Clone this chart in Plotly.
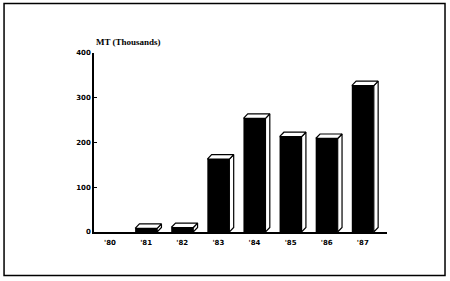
import plotly.graph_objects as go

years = ["'80", "'81", "'82", "'83", "'84", "'85", "'86", "'87"]
values = [0, 8, 10, 163, 254, 213, 209, 327]
y_ticks = [0, 100, 200, 300, 400]

bar_w = 0.61
dx = 0.12
dy = 10

xs = list(range(len(years)))
fig = go.Figure()
fig.add_trace(go.Bar(x=xs, y=values, width=bar_w, marker=dict(color="black", line=dict(color="black", width=0)),
                     showlegend=False, hoverinfo="skip", cliponaxis=False))

for x, v in zip(xs, values):
    if v <= 0:
        continue
    l, r = x - bar_w / 2, x + bar_w / 2
    # side face
    fig.add_trace(go.Scatter(x=[r, r + dx, r + dx, r, r], y=[0, dy, v + dy, v, 0], mode="lines",
                             fill="toself", fillcolor="white", line=dict(color="black", width=1.2),
                             showlegend=False, hoverinfo="skip", cliponaxis=False))
    # top face
    fig.add_trace(go.Scatter(x=[l, l + dx, r + dx, r, l], y=[v, v + dy, v + dy, v, v], mode="lines",
                             fill="toself", fillcolor="white", line=dict(color="black", width=1.2),
                             showlegend=False, hoverinfo="skip", cliponaxis=False))

fig.update_layout(
    width=450, height=281,
    margin=dict(l=94, r=63, t=53, b=49),
    paper_bgcolor="white", plot_bgcolor="white",
    font=dict(family="Liberation Serif", color="black", size=7),
    xaxis=dict(range=[-0.443, 7.67], tickvals=xs, ticktext=years, showgrid=False, zeroline=False,
               showline=True, linecolor="black", linewidth=1.5, ticks="", ticklabelstandoff=3,
               tickfont=dict(family="DejaVu Sans", size=7, color="black", weight="bold")),
    yaxis=dict(range=[0, 400], tickvals=y_ticks, showgrid=False, zeroline=False,
               showline=True, linecolor="black", linewidth=1.5, ticks="inside", ticklen=3,
               tickcolor="black", tickwidth=1.2,
               tickfont=dict(family="DejaVu Sans", size=7, color="black", weight="bold")),
    annotations=[dict(text="MT (Thousands)", xref="paper", yref="paper", x=0, y=1.02,
                      xanchor="left", yanchor="bottom", showarrow=False,
                      font=dict(family="Liberation Serif", size=9, color="black", weight="bold"))],
    shapes=[dict(type="rect", xref="paper", yref="paper", x0=-0.307, x1=1.198, y0=-0.243, y1=1.277,
                 line=dict(color="black", width=1.5))],
)

fig.write_html("out.html")
